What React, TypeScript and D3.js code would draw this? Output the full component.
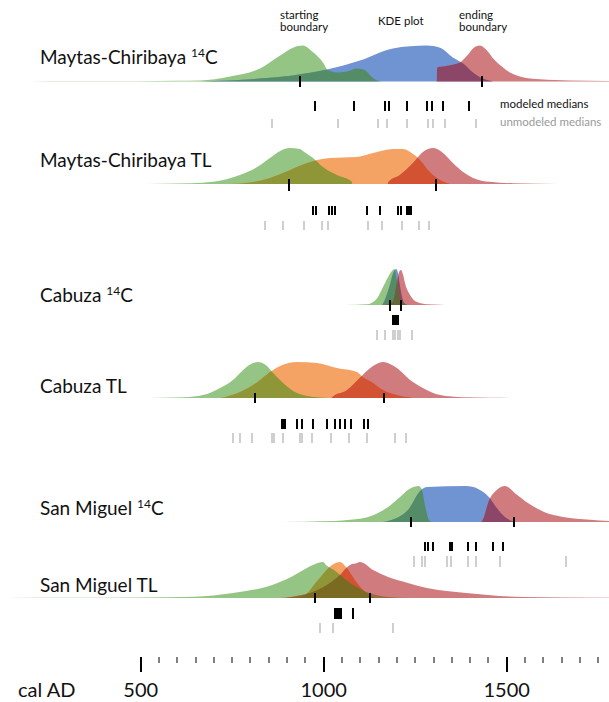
import React from 'react';
import * as d3 from 'd3';

type Pt = [number, number];

// ---- Density curves: [year AD, relative density (peak = 100)] ----
const mc14Start: Pt[] = [[198,0],[300,0.6],[480,1],[600,1.8],[662,3],[703,6],[744,14],[826,36],[881,72],[916,94],[943,100],[971,81],[998,53],[1012,31],[1036,25],[1064,28],[1091,36],[1113,31],[1127,17],[1146,3],[1159,0]];
const mc14Kde: Pt[] = [[662,0],[744,3],[826,8],[916,17],[1009,33],[1099,58],[1189,92],[1282,100],[1318,94],[1353,67],[1381,50],[1408,25],[1435,8],[1463,0]];
const mc14End: Pt[] = [[1309,0],[1310,39],[1337,44],[1372,53],[1392,72],[1408,92],[1427,100],[1446,86],[1463,64],[1490,39],[1509,25],[1536,14],[1591,6],[1673,2.5],[1780,1.2]];

const mcTlStart: Pt[] = [[472,0],[560,0.8],[640,2],[698,6],[771,25],[818,47],[853,72],[881,92],[908,100],[935,97],[943,92],[971,72],[998,47],[1036,25],[1077,6],[1078,0]];
const mcTlKde: Pt[] = [[744,0],[834,11],[908,39],[954,58],[982,67],[1017,72],[1091,75],[1135,86],[1189,97],[1217,97],[1244,83],[1263,67],[1290,33],[1318,11],[1345,0]];
const mcTlEnd: Pt[] = [[1175,0],[1176,5],[1208,25],[1244,58],[1271,89],[1299,100],[1310,97],[1326,86],[1353,58],[1381,33],[1408,17],[1454,6],[1517,2],[1591,0.8],[1700,0]];

const cb14Start: Pt[] = [[1060,0],[1118,2],[1146,19],[1162,50],[1176,78],[1189,97],[1193,100],[1200,69],[1208,22],[1217,6],[1228,0]];
const cb14Kde: Pt[] = [[1160,0],[1167,14],[1181,56],[1189,86],[1198,100],[1203,89],[1208,56],[1214,22],[1222,3],[1230,0]];
const cb14End: Pt[] = [[1170,0],[1189,8],[1200,61],[1206,92],[1211,97],[1217,83],[1222,61],[1236,28],[1255,8],[1282,2],[1318,0.8],[1345,0]];

const cbTlStart: Pt[] = [[490,0],[560,0.8],[620,2],[670,8],[717,28],[752,50],[780,78],[807,97],[820,100],[845,89],[861,70],[889,42],[927,14],[982,2],[1017,0]];
const cbTlKde: Pt[] = [[717,0],[771,17],[818,44],[853,72],[881,89],[927,100],[982,97],[1036,83],[1091,72],[1107,58],[1135,42],[1162,22],[1200,8],[1244,0]];
const cbTlEnd: Pt[] = [[1022,0],[1023,2],[1064,22],[1099,56],[1127,83],[1162,100],[1200,83],[1236,50],[1271,28],[1318,8],[1381,2],[1460,0.8],[1536,0]];

const sm14Start: Pt[] = [[816,0],[950,1],[1030,2.5],[1072,6],[1135,19],[1176,42],[1208,69],[1230,89],[1260,100],[1268,90],[1278,40],[1288,5],[1295,0]];
const sm14Kde: Pt[] = [[1160,0],[1176,3],[1230,33],[1266,89],[1282,97],[1389,100],[1422,92],[1452,69],[1473,39],[1495,14],[1525,0]];
const sm14End: Pt[] = [[1430,0],[1433,3],[1452,61],[1473,89],[1495,100],[1525,78],[1558,53],[1602,28],[1654,14],[1728,6],[1780,2.5]];

const smTlStart: Pt[] = [[129,0],[300,0.6],[500,1.2],[646,3.5],[752,14],[859,36],[911,58],[954,83],[984,97],[998,100],[1006,92],[1028,78],[1072,42],[1124,14],[1176,3],[1230,0]];
const smTlKde: Pt[] = [[900,0],[944,6],[984,50],[1023,92],[1045,100],[1061,86],[1091,42],[1124,8],[1140,0]];
const smTlEnd: Pt[] = [[880,0],[911,3],[984,22],[1039,58],[1072,92],[1091,97],[1099,100],[1135,78],[1176,58],[1230,42],[1282,28],[1389,14],[1547,3],[1780,1]];

// ---- Medians (years AD) ----
const mc14Modeled = [976,1083,1167,1178,1228,1282,1296,1326,1397];
const mc14Unmodeled = [859,1039,1148,1173,1228,1285,1299,1331,1416];
const mc14Bounds = [935,1433];
const mcTlModeled = [971,979,1014,1023,1031,1118,1154,1203,1211,1228,1233,1239];
const mcTlUnmodeled = [840,889,946,995,1012,1121,1159,1214,1260,1288];
const mcTlBounds = [905,1307];
const cb14Modeled = [1189,1192,1195,1198,1201,1203];
const cb14Unmodeled = [1146,1167,1189,1195,1203,1208,1241];
const cb14Bounds = [1181,1211];
const cbTlModeled = [886,889,892,894,927,941,971,1009,1031,1045,1058,1075,1110,1121];
const cbTlUnmodeled = [752,771,804,859,864,889,935,941,968,1020,1069,1118,1195,1225];
const cbTlBounds = [812,1165];
const sm14Modeled = [1277,1285,1299,1345,1351,1394,1416,1463,1490];
const sm14Unmodeled = [1247,1269,1277,1337,1348,1394,1416,1482,1662];
const sm14Bounds = [1239,1520];
const smTlModeled = [1031,1036,1042,1047,1080];
const smTlUnmodeled = [990,1026,1190];
const smTlBounds = [977,1127];

const siteNames = ['Maytas-Chiribaya','Maytas-Chiribaya','Cabuza','Cabuza','San Miguel','San Miguel'];
const methods = ['14C','TL','14C','TL','14C','TL'];
const axisTicks = d3.range(500, 1751, 50);
const axisLabels = [500, 1000, 1500];

const panelsData = [
  { curves: [mc14Start, mc14Kde, mc14End], modeled: mc14Modeled, unmodeled: mc14Unmodeled, bounds: mc14Bounds },
  { curves: [mcTlStart, mcTlKde, mcTlEnd], modeled: mcTlModeled, unmodeled: mcTlUnmodeled, bounds: mcTlBounds },
  { curves: [cb14Start, cb14Kde, cb14End], modeled: cb14Modeled, unmodeled: cb14Unmodeled, bounds: cb14Bounds },
  { curves: [cbTlStart, cbTlKde, cbTlEnd], modeled: cbTlModeled, unmodeled: cbTlUnmodeled, bounds: cbTlBounds },
  { curves: [sm14Start, sm14Kde, sm14End], modeled: sm14Modeled, unmodeled: sm14Unmodeled, bounds: sm14Bounds },
  { curves: [smTlStart, smTlKde, smTlEnd], modeled: smTlModeled, unmodeled: smTlUnmodeled, bounds: smTlBounds },
];

// ---- layout ----
const layout = [
  { base: 81.5, title: 64, mod: [101, 111], unmod: [119, 128], bnd: [76, 87] },
  { base: 184, title: 167, mod: [206, 215], unmod: [221, 230], bnd: [179, 191] },
  { base: 305, title: 302, mod: [315, 325], unmod: [330, 340], bnd: [300, 311] },
  { base: 398, title: 393, mod: [419, 429], unmod: [433, 443], bnd: [393, 403] },
  { base: 522, title: 515, mod: [542, 551], unmod: [556, 567], bnd: [517, 527] },
  { base: 598, title: 592, mod: [608, 619], unmod: [623, 633], bnd: [593, 603] },
];

const GREEN = '#95c584';
const BLUE = '#7093d2';
const RED = '#d07c7e';
const ORANGE = '#f5a365';
const colors14: Record<string, string> = { '0': GREEN, '1': BLUE, '2': RED, '0-1': '#548c68', '1-2': '#8b4668', '0-2': '#8e6a48', '0-1-2': '#66663a' };
const colorsTL: Record<string, string> = { '0': GREEN, '1': ORANGE, '2': RED, '0-1': '#8f9637', '1-2': '#d35232', '0-2': '#9a6a3c', '0-1-2': '#7a6a22' };
const subsets = [[0, 1], [1, 2], [0, 2], [0, 1, 2]];

const FONT = "Lato, 'Open Sans', sans-serif";

const x = d3.scaleLinear().domain([500, 1500]).range([140.7, 506.7]);
const hgt = d3.scaleLinear().domain([0, 100]).range([0, 36]);

function areaPath(data: Pt[], base: number): string {
  return d3.area<Pt>().x(d => x(d[0])).y0(base).y1(d => base - hgt(d[1])).curve(d3.curveMonotoneX)(data) || '';
}

function Ticks({ values, y, color }: { values: number[]; y: number[]; color: string }) {
  return (
    <g fill={color}>
      {values.map((v, i) => (
        <rect key={i} x={Math.round(x(v)) - 1} y={y[0]} width={2} height={y[1] - y[0]} />
      ))}
    </g>
  );
}

function Panel({ idx }: { idx: number }) {
  const p = panelsData[idx];
  const L = layout[idx];
  const cmap = methods[idx] === '14C' ? colors14 : colorsTL;
  const paths = p.curves.map(c => areaPath(c, L.base));
  const cid = (s: number) => `clip-${idx}-${s}`;
  return (
    <g>
      <defs>
        {paths.map((d, s) => (
          <clipPath key={s} id={cid(s)}><path d={d} /></clipPath>
        ))}
      </defs>
      <text x={40} y={L.title} fontFamily={FONT} fontSize={19} fill="#111">
        {siteNames[idx] + ' '}
        {methods[idx] === '14C' ? (
          <>
            <tspan fontSize={12} dy={-7}>14</tspan>
            <tspan dy={7}>C</tspan>
          </>
        ) : (
          <tspan>TL</tspan>
        )}
      </text>
      {paths.map((d, s) => (
        <path key={s} d={d} fill={cmap[String(s)]} />
      ))}
      {subsets.map((sub, k) => {
        const last = sub[sub.length - 1];
        let node: React.ReactNode = <path d={paths[last]} fill={cmap[sub.join('-')]} />;
        for (let j = sub.length - 2; j >= 0; j--) {
          node = <g clipPath={`url(#${cid(sub[j])})`}>{node}</g>;
        }
        return <g key={k}>{node}</g>;
      })}
      <Ticks values={p.bounds} y={L.bnd} color="#000" />
      <Ticks values={p.modeled} y={L.mod} color="#000" />
      <Ticks values={p.unmodeled} y={L.unmod} color="#cfcfcf" />
    </g>
  );
}

export default function App() {
  return (
    <svg width={609} height={702} style={{ position: 'absolute', left: 0, top: 0, background: '#fff' }}>
      <rect width={609} height={702} fill="#fff" />
      {panelsData.map((_, i) => <Panel key={i} idx={i} />)}
      <g fontFamily={FONT} fontSize={11.5} fill="#111">
        <text x={280} y={19}>starting</text>
        <text x={280} y={31}>boundary</text>
        <text x={378} y={25}>KDE plot</text>
        <text x={459} y={19}>ending</text>
        <text x={459} y={31}>boundary</text>
        <text x={500} y={108}>modeled medians</text>
        <text x={500} y={126} fill="#9a9a9a">unmodeled medians</text>
      </g>
      <g>
        {axisTicks.map(t => {
          const major = t % 500 === 0;
          return (
            <rect key={t} x={Math.round(x(t)) - (major ? 1 : 0.5)} y={657} width={major ? 2 : 1} height={major ? 15 : 6} fill="#000" />
          );
        })}
      </g>
      <g fontFamily={FONT} fontSize={20} fill="#111">
        <text x={18} y={697}>cal AD</text>
        {axisLabels.map(v => (
          <text key={v} x={x(v)} y={697} textAnchor="middle">{v}</text>
        ))}
      </g>
    </svg>
  );
}
